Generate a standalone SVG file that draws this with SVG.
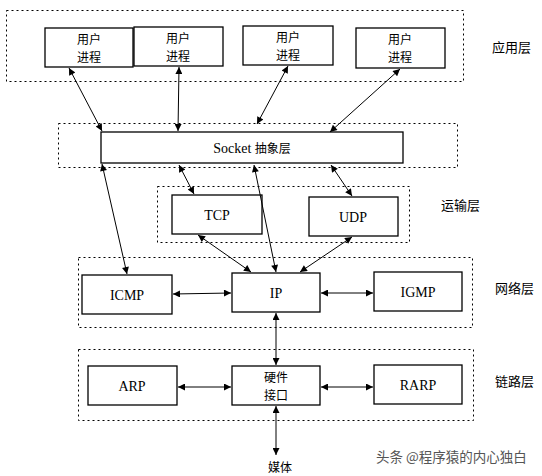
<svg xmlns="http://www.w3.org/2000/svg" width="542" height="476" viewBox="0 0 542 476">
<defs>
<marker id="ah" viewBox="0 0 10 10" refX="10" refY="5" markerWidth="9" markerHeight="7" markerUnits="userSpaceOnUse" orient="auto-start-reverse">
<path d="M0,0 L10,5 L0,10 z" fill="#000"/>
</marker>
<style>
.layer{fill:none;stroke:#000;stroke-width:1;stroke-dasharray:2,3}
.box{fill:#fff;stroke:#000;stroke-width:1.3}
.cj{font-family:"Noto Sans CJK SC","Noto Sans",sans-serif;font-size:12px;fill:#000}
.lt{font-family:"Liberation Serif","Times New Roman",serif;font-size:14px;fill:#000}
.lbl{font-family:"Noto Sans CJK SC",sans-serif;font-size:13px;fill:#000}
.conn path{fill:none;stroke:#000;stroke-width:1;marker-start:url(#ah);marker-end:url(#ah)}
</style>
</defs>
<rect width="542" height="476" fill="#fff"/>

<g id="layers">
<rect class="layer" x="6.5" y="10.5" width="457" height="71"/>
<rect class="layer" x="58.5" y="123.5" width="399" height="44"/>
<rect class="layer" x="157.5" y="186.5" width="252" height="56"/>
<rect class="layer" x="78.5" y="257.5" width="394" height="70"/>
<rect class="layer" x="78.5" y="349.5" width="395" height="71"/>
</g>

<g id="layer-labels">
<text class="lbl" x="492" y="52">应用层</text>
<text class="lbl" x="441" y="210">运输层</text>
<text class="lbl" x="495" y="293">网络层</text>
<text class="lbl" x="495" y="386">链路层</text>
</g>

<g id="user1"><rect class="box" x="45" y="28" width="88" height="39"/><text class="cj" x="89" y="44" text-anchor="middle">用户</text><text class="cj" x="89" y="62" text-anchor="middle">进程</text></g>
<g id="user2"><rect class="box" x="134" y="27" width="89" height="39"/><text class="cj" x="178" y="43" text-anchor="middle">用户</text><text class="cj" x="178" y="61" text-anchor="middle">进程</text></g>
<g id="user3"><rect class="box" x="243" y="26" width="90" height="39"/><text class="cj" x="288" y="42" text-anchor="middle">用户</text><text class="cj" x="288" y="60" text-anchor="middle">进程</text></g>
<g id="user4"><rect class="box" x="356" y="28" width="89" height="40"/><text class="cj" x="400" y="44" text-anchor="middle">用户</text><text class="cj" x="400" y="62" text-anchor="middle">进程</text></g>

<g id="socket"><rect class="box" x="101" y="132" width="302" height="31"/><text x="252" y="153" text-anchor="middle"><tspan class="lt">Socket </tspan><tspan class="cj" font-size="13">抽象层</tspan></text></g>

<g id="tcp"><rect class="box" x="172" y="195" width="90" height="39"/><text class="lt" x="217" y="220" text-anchor="middle">TCP</text></g>
<g id="udp"><rect class="box" x="309" y="197" width="89" height="39"/><text class="lt" x="353" y="222" text-anchor="middle">UDP</text></g>

<g id="icmp"><rect class="box" x="82" y="275" width="90" height="39"/><text class="lt" x="127" y="300" text-anchor="middle">ICMP</text></g>
<g id="ip"><rect class="box" x="232" y="273" width="88" height="39"/><text class="lt" x="276" y="298" text-anchor="middle">IP</text></g>
<g id="igmp"><rect class="box" x="374" y="272" width="88" height="39"/><text class="lt" x="418" y="297" text-anchor="middle">IGMP</text></g>

<g id="arp"><rect class="box" x="88" y="366" width="89" height="39"/><text class="lt" x="132" y="391" text-anchor="middle">ARP</text></g>
<g id="hw"><rect class="box" x="232" y="366" width="88" height="39"/><text class="cj" x="276" y="382" text-anchor="middle">硬件</text><text class="cj" x="276" y="400" text-anchor="middle">接口</text></g>
<g id="rarp"><rect class="box" x="374" y="365" width="88" height="39"/><text class="lt" x="418" y="390" text-anchor="middle">RARP</text></g>

<g id="media"><text class="cj" x="280" y="472" text-anchor="middle" font-size="14">媒体</text></g>

<g id="connectors" class="conn">
<path d="M69,68 L102,131"/>
<path d="M179,67 L178,131"/>
<path d="M288,66 L257,124"/>
<path d="M400,69 L330,132"/>
<path d="M102,164 L127,274"/>
<path d="M179,165 L194,194"/>
<path d="M254,165 L276,272"/>
<path d="M331,165 L352,196"/>
<path d="M198,235 L251,272"/>
<path d="M352,237 L300,272"/>
<path d="M173,294 L231,293"/>
<path d="M321,293 L373,293"/>
<path d="M276,313 L276,365"/>
<path d="M178,387 L231,387"/>
<path d="M321,387 L373,387"/>
<path d="M276,406 L276,455"/>
</g>

<text x="376" y="462" font-family="Noto Sans CJK SC,sans-serif" font-size="13.5" fill="#555">头条 @程序猿的内心独白</text>
</svg>
